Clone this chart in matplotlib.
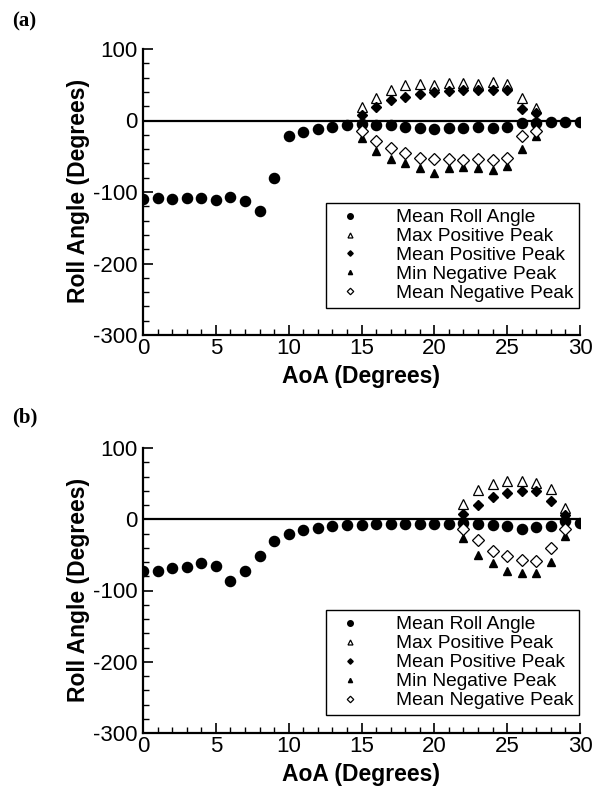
import numpy as np
import matplotlib
matplotlib.use("Agg")
import matplotlib.pyplot as plt
from matplotlib.ticker import MultipleLocator

plt.rcParams['font.family'] = ['Liberation Sans', 'DejaVu Sans']
plt.rcParams['axes.unicode_minus'] = False

# ---------------- data panel (a) ----------------
aoa_a = list(range(0, 31))
mean_roll_a = [-110, -109, -110, -108, -109, -111, -107, -113, -127, -81,
               -22, -16, -12, -9, -6, -5, -6, -6, -9, -11,
               -12, -11, -11, -9, -10, -9, -3, -3, -2, -2, -2]
peak_aoa_a = list(range(15, 28))
max_pos_a = [19, 32, 42, 49, 51, 50, 52, 53, 51, 54, 51, 32, 18]
mean_pos_a = [8, 19, 28, 33, 37, 40, 41, 42, 42, 42, 42, 16, 10]
min_neg_a = [-25, -43, -54, -60, -66, -73, -66, -65, -66, -69, -63, -40, -22]
mean_neg_a = [-14, -28, -39, -45, -52, -54, -54, -55, -54, -55, -53, -22, -14]

# ---------------- data panel (b) ----------------
aoa_b = list(range(0, 31))
mean_roll_b = [-73, -72, -69, -67, -61, -65, -87, -73, -52, -31,
               -21, -15, -12, -10, -8, -8, -7, -7, -7, -7,
               -7, -6, -5, -6, -8, -10, -13, -11, -9, -3, -5]
peak_aoa_b = list(range(22, 30))
max_pos_b = [22, 41, 49, 54, 54, 51, 43, 16]
mean_pos_b = [8, 20, 31, 37, 39, 39, 25, 6]
min_neg_b = [-26, -50, -62, -72, -75, -76, -60, -24]
mean_neg_b = [-14, -29, -44, -52, -57, -59, -40, -14]

labels = ["Mean Roll Angle", "Max Positive Peak", "Mean Positive Peak",
          "Min Negative Peak", "Mean Negative Peak"]

fig = plt.figure(figsize=(5.92, 7.92), dpi=100)
W, H = 592, 792


def make_axes(top_px, bot_px):
    left, right = 143, 580
    return fig.add_axes([left / W, 1 - bot_px / H, (right - left) / W, (bot_px - top_px) / H])


def draw(ax, aoa, mean_roll, paoa, maxp, meanp, minn, meann, leg_y, h_px):
    ax.axhline(0, color='black', lw=1.6, zorder=1)
    ax.plot(aoa, mean_roll, 'o', color='black', ms=7.3, ls='none', label=labels[0], zorder=3)
    ax.plot(paoa, maxp, '^', mfc='white', mec='black', mew=0.9, ms=6.5, ls='none', label=labels[1], zorder=3)
    ax.plot(paoa, meanp, 'D', color='black', ms=5, ls='none', label=labels[2], zorder=3)
    ax.plot(paoa, minn, '^', color='black', ms=5.5, ls='none', label=labels[3], zorder=3)
    ax.plot(paoa, meann, 'D', mfc='white', mec='black', mew=0.9, ms=6, ls='none', label=labels[4], zorder=3)

    ax.set_xlim(0, 30)
    ax.set_ylim(-300, 100)
    ax.xaxis.set_major_locator(MultipleLocator(5))
    ax.xaxis.set_minor_locator(MultipleLocator(1))
    ax.yaxis.set_major_locator(MultipleLocator(100))
    ax.yaxis.set_minor_locator(MultipleLocator(20))
    ax.tick_params(which='major', direction='in', length=7, width=1.2, labelsize=16)
    ax.tick_params(axis='x', which='major', pad=2.5)
    ax.tick_params(axis='y', which='major', pad=4)
    ax.tick_params(which='minor', direction='in', length=4, width=1.0)
    for s in ['top', 'right']:
        ax.spines[s].set_visible(False)
    for s in ['left', 'bottom']:
        ax.spines[s].set_linewidth(1.6)
    ax.set_xlabel('AoA (Degrees)', fontsize=16.5, fontweight='bold')
    ax.set_ylabel('Roll Angle (Degrees)', fontsize=16.5, fontweight='bold')
    ax.xaxis.set_label_coords(0.5, -30 / h_px)
    ax.yaxis.set_label_coords(-0.122, 0.502)

    leg = ax.legend(loc='lower right', bbox_to_anchor=(0.998, leg_y), fontsize=13.8,
                    frameon=True, fancybox=False, edgecolor='black', framealpha=1,
                    markerscale=0.55, handletextpad=1.45, labelspacing=0.08,
                    borderpad=0.3, handlelength=1.9, borderaxespad=0)
    leg.get_frame().set_linewidth(1.0)


ax_a = make_axes(49, 335)
draw(ax_a, aoa_a, mean_roll_a, peak_aoa_a, max_pos_a, mean_pos_a, min_neg_a, mean_neg_a, 0.095, 286)
ax_b = make_axes(448, 733)
draw(ax_b, aoa_b, mean_roll_b, peak_aoa_b, max_pos_b, mean_pos_b, min_neg_b, mean_neg_b, 0.063, 285)

fig.text(12 / W, 1 - 21 / H, '(a)', fontsize=15, fontweight='bold', family='Liberation Serif', va='center')
fig.text(12 / W, 1 - 417 / H, '(b)', fontsize=15, fontweight='bold', family='Liberation Serif', va='center')

fig.savefig('out.png', dpi=100)
